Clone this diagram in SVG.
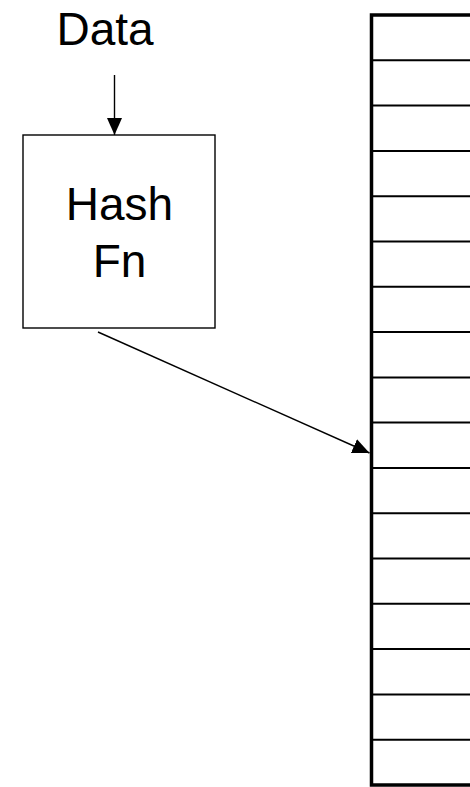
<svg xmlns="http://www.w3.org/2000/svg" width="470" height="787" viewBox="0 0 470 787">
<style>
text{font-family:"Liberation Sans",Arial,sans-serif;font-size:46px;fill:#000;text-anchor:middle}
.row{stroke:#000;stroke-width:2}
.conn{stroke:#000;stroke-width:1.4;fill:none;marker-end:url(#ah)}
</style>
<defs>
<marker id="ah" markerUnits="userSpaceOnUse" markerWidth="18" markerHeight="16" refX="17" refY="7.5" orient="auto">
<path d="M0,0 L17,7.5 L0,15 Z" fill="#000"/>
</marker>
</defs>
<rect width="470" height="787" fill="#fff"/>
<g id="data-label"><text x="105" y="45">Data</text></g>
<g id="hash-fn">
<rect x="23" y="135" width="192" height="193" fill="#fff" stroke="#000" stroke-width="1.4"/>
<text x="119.5" y="220">Hash</text>
<text x="119.5" y="277">Fn</text>
</g>
<g id="table">
<rect x="371.5" y="15" width="120" height="770" fill="#fff" stroke="#000" stroke-width="3.5"/>
<g class="row">
<line x1="373" y1="60.3" x2="470" y2="60.3"/>
<line x1="373" y1="105.6" x2="470" y2="105.6"/>
<line x1="373" y1="150.9" x2="470" y2="150.9"/>
<line x1="373" y1="196.2" x2="470" y2="196.2"/>
<line x1="373" y1="241.5" x2="470" y2="241.5"/>
<line x1="373" y1="286.8" x2="470" y2="286.8"/>
<line x1="373" y1="332.1" x2="470" y2="332.1"/>
<line x1="373" y1="377.4" x2="470" y2="377.4"/>
<line x1="373" y1="422.6" x2="470" y2="422.6"/>
<line x1="373" y1="467.9" x2="470" y2="467.9"/>
<line x1="373" y1="513.2" x2="470" y2="513.2"/>
<line x1="373" y1="558.5" x2="470" y2="558.5"/>
<line x1="373" y1="603.8" x2="470" y2="603.8"/>
<line x1="373" y1="649.1" x2="470" y2="649.1"/>
<line x1="373" y1="694.4" x2="470" y2="694.4"/>
<line x1="373" y1="739.7" x2="470" y2="739.7"/>
</g>
</g>
<g id="connectors">
<line class="conn" x1="114.5" y1="75" x2="114.5" y2="135"/>
<line class="conn" x1="98" y1="332" x2="369.5" y2="453"/>
</g>
</svg>
